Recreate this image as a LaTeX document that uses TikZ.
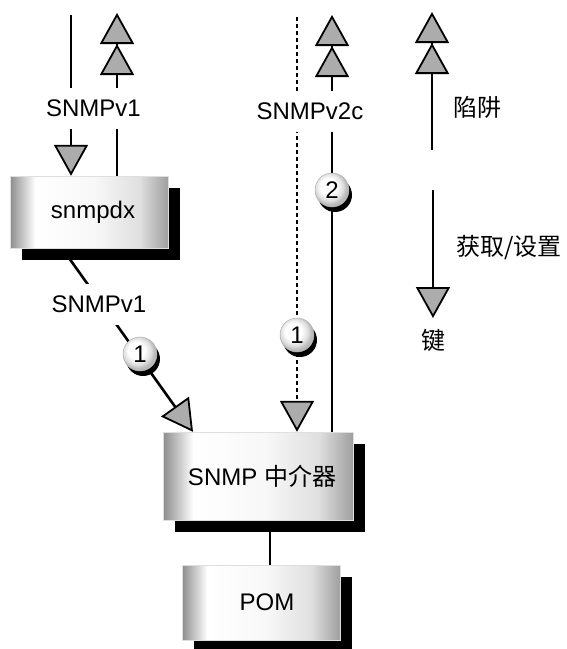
\documentclass[tikz,border=0pt]{standalone}
\usepackage{fontspec}
\setmainfont{Liberation Sans}
\newfontfamily\cjk{Noto Sans CJK SC}
\usetikzlibrary{arrows.meta, shadows, backgrounds}
\pgfdeclarehorizontalshading{metal}{100bp}{color(0bp)=(gray!90); color(25bp)=(gray!90); color(33bp)=(white); color(52bp)=(gray!6); color(66bp)=(gray!25); color(75bp)=(gray!75); color(100bp)=(gray!75)}
\pgfdeclareradialshading{pearl}{\pgfpoint{-7bp}{7bp}}{color(0bp)=(white); color(12bp)=(white); color(20bp)=(gray!25); color(25bp)=(gray!55); color(50bp)=(gray!55)}

\begin{document}
\begin{tikzpicture}[x=1pt, y=-1pt, font=\fontsize{24}{28}\selectfont,
    >={Triangle[length=31pt, width=34pt, fill=gray!65, sep=0pt, line width=1.8pt]},
    conn/.style={line width=2.6pt},
    box/.style={shading=metal, draw=gray!25, line width=0.4pt, inner sep=0pt,
      drop shadow={shadow xshift=12pt, shadow yshift=-12pt, fill=black, opacity=1}},
    badge/.style={circle, shading=pearl, draw=gray!60, line width=0.5pt, minimum size=34pt, inner sep=0pt,
      drop shadow={shadow xshift=3pt, shadow yshift=-5pt, fill=black, opacity=1}},
    lbl/.style={fill=white, inner xsep=1pt, inner ysep=12pt}]
    \useasboundingbox (0,0) rectangle (566,649);
    \node[box, minimum width=158pt, minimum height=72pt] (sd) at (89,212) {\hspace{8pt}snmpdx};
    \node[box, minimum width=190pt, minimum height=88pt] (px) at (258,476) {\hspace{8pt}SNMP {\cjk 中介器}};
    \node[box, minimum width=158pt, minimum height=75pt] (pom) at (261,602.5) {\hspace{12pt}POM};
    \node[lbl] (v1a) at (93.5,108.5) {SNMPv1};
    \node[lbl] (v1b) at (99,304) {SNMPv1};
    \node[lbl] (v2c) at (310,111.5) {SNMPv2c};
    \node[badge] (n1a) at (140,354) {1};
    \node[badge] (n1b) at (297,335) {1};
    \node[badge] (n2) at (332,190) {2};
    \node (trap) at (477,107) {\cjk 陷阱};
    \node (getset) at (509,248) {\cjk 获取/设置};
    \node (key) at (433,340) {\cjk 键};
    \coordinate (in1) at (71,15);
    \coordinate (out1) at (117,13);
    \coordinate (in2) at (297,17);
    \coordinate (out2) at (332,15);
    \coordinate (trapa) at (432,150);
    \coordinate (trapb) at (432,12);
    \coordinate (geta) at (433,190);
    \coordinate (getb) at (433,318);
    \begin{scope}[on background layer]
    \draw[conn, ->] (in1) -- (in1 |- sd.north);
    \draw[conn, ->>] (out1 |- sd.north) -- (out1);
    \draw[conn, ->] ([xshift=-27pt]sd.south) -- ([xshift=-65pt]px.north);
    \draw[conn, ->, dash pattern=on 4pt off 3pt] (in2) -- (in2 |- px.north);
    \draw[conn, ->>] (out2 |- px.north) -- (out2);
    \draw[conn] ([xshift=12pt]px.south) -- ([xshift=12pt]px.south |- pom.north);
    \draw[conn, ->>] (trapa) -- (trapb);
    \draw[conn, ->] (geta) -- (getb);
    \end{scope}
\end{tikzpicture}
\end{document}
